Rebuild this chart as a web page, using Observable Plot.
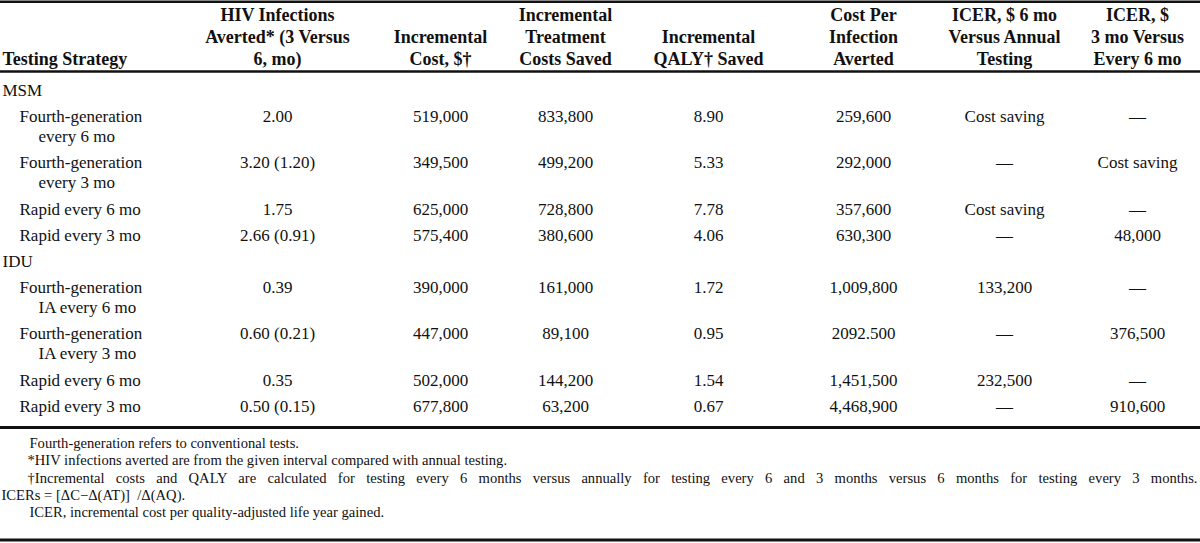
<!DOCTYPE html>
<html>
<head>
<meta charset="utf-8">
<script src="https://cdn.jsdelivr.net/npm/d3@7"></script>
<script src="https://cdn.jsdelivr.net/npm/@observablehq/plot@0.6"></script>
<style>
  html, body { margin: 0; padding: 0; background: #fff; }
</style>
</head>
<body>
<script>
// ---------- DATA ----------
const columnHeaders = [
  ["Testing Strategy"],
  ["HIV Infections", "Averted* (3 Versus", "6, mo)"],
  ["Incremental", "Cost, $†"],
  ["Incremental", "Treatment", "Costs Saved"],
  ["Incremental", "QALY† Saved"],
  ["Cost Per", "Infection", "Averted"],
  ["ICER, $ 6 mo", "Versus Annual", "Testing"],
  ["ICER, $", "3 mo Versus", "Every 6 mo"]
];
const groups = ["MSM", "IDU"];
const strategyGroup = ["MSM", "MSM", "MSM", "MSM", "IDU", "IDU", "IDU", "IDU"];
const strategies = [
  ["Fourth-generation", "every 6 mo"],
  ["Fourth-generation", "every 3 mo"],
  ["Rapid every 6 mo"],
  ["Rapid every 3 mo"],
  ["Fourth-generation", "IA every 6 mo"],
  ["Fourth-generation", "IA every 3 mo"],
  ["Rapid every 6 mo"],
  ["Rapid every 3 mo"]
];
const infectionsAverted = ["2.00", "3.20 (1.20)", "1.75", "2.66 (0.91)", "0.39", "0.60 (0.21)", "0.35", "0.50 (0.15)"];
const incrementalCost = ["519,000", "349,500", "625,000", "575,400", "390,000", "447,000", "502,000", "677,800"];
const treatmentCostsSaved = ["833,800", "499,200", "728,800", "380,600", "161,000", "89,100", "144,200", "63,200"];
const qalySaved = ["8.90", "5.33", "7.78", "4.06", "1.72", "0.95", "1.54", "0.67"];
const costPerInfectionAverted = ["259,600", "292,000", "357,600", "630,300", "1,009,800", "2092.500", "1,451,500", "4,468,900"];
const icer6VsAnnual = ["Cost saving", "—", "Cost saving", "—", "133,200", "—", "232,500", "—"];
const icer3Vs6 = ["—", "Cost saving", "—", "48,000", "—", "376,500", "—", "910,600"];
const footnotes = [
  "Fourth-generation refers to conventional tests.",
  "*HIV infections averted are from the given interval compared with annual testing.",
  "†Incremental costs and QALY are calculated for testing every 6 months versus annually for testing every 6 and 3 months versus 6 months for testing every 3 months.",
  "ICERs = [ΔC−Δ(AT)]\u00a0 /Δ(AQ).",
  "ICER, incremental cost per quality-adjusted life year gained."
];

// ---------- LAYOUT ----------
const W = 1200, H = 543;
const FONT = "'Liberation Serif', 'Times New Roman', Times, serif";
const INK = "#111";
const colX = [2, 277, 440, 565, 708, 863, 1004, 1137];
const headerLineY = [15, 37, 59];
const bodyStartY = 90, lineH = 20, rowGap = 26.2;
const indent1 = 19, indent2 = 38;
const footY0 = 443, footStep = 17.2;
const footIndent = [29, 27, 27, 1, 29];
const rules = [{y: 1.2, w: 2.4}, {y: 71, w: 2.4}, {y: 427, w: 2.8}, {y: 539.5, w: 2.8}];

const valueCols = [infectionsAverted, incrementalCost, treatmentCostsSaved, qalySaved,
  costPerInfectionAverted, icer6VsAnnual, icer3Vs6];

// header cells
const headLeft = [], headMid = [];
columnHeaders.forEach((lines, c) => {
  const off = 3 - lines.length;
  lines.forEach((t, i) => {
    const cell = {x: colX[c], y: headerLineY[i + off], text: t};
    (c === 0 ? headLeft : headMid).push(cell);
  });
});

// body cells
const bodyLeft = [], bodyMid = [];
let y = bodyStartY;
groups.forEach(g => {
  bodyLeft.push({x: colX[0], y, text: g});
  y += rowGap;
  strategies.forEach((lines, r) => {
    if (strategyGroup[r] !== g) return;
    lines.forEach((t, i) => bodyLeft.push({x: i === 0 ? indent1 : indent2, y: y + i * lineH, text: t}));
    valueCols.forEach((col, c) => bodyMid.push({x: colX[c + 1], y, text: col[r]}));
    y += (lines.length - 1) * lineH + rowGap;
  });
});

const foot = footnotes.map((t, i) => ({x: footIndent[i], y: footY0 + i * footStep, text: t}));

const common = {x: "x", y: "y", text: "text", fill: INK, fontFamily: FONT, lineAnchor: "middle"};

const chart = Plot.plot({
  width: W, height: H,
  margin: 0,
  x: {type: "linear", domain: [0, W], range: [0, W], axis: null},
  y: {type: "linear", domain: [0, H], range: [0, H], axis: null},
  style: {background: "#fff"},
  marks: [
    Plot.ruleY(rules, {y: "y", x1: 0, x2: W, stroke: INK, strokeWidth: d => d.w}),
    Plot.text(headLeft, {...common, textAnchor: "start", fontSize: 18, fontWeight: "bold"}),
    Plot.text(headMid, {...common, textAnchor: "middle", fontSize: 18, fontWeight: "bold"}),
    Plot.text(bodyLeft, {...common, textAnchor: "start", fontSize: 17}),
    Plot.text(bodyMid, {...common, textAnchor: "middle", fontSize: 17}),
    Plot.text(foot, {...common, textAnchor: "start", fontSize: 14.6})
  ]
});
document.body.append(chart);

// justify the long footnote line like the source typesetting
chart.querySelectorAll("text").forEach(t => {
  if (t.textContent.startsWith("†Incremental")) {
    const len = t.getComputedTextLength();
    const spaces = (t.textContent.match(/ /g) || []).length;
    const target = 1197 - 27;
    if (spaces && len < target) t.style.wordSpacing = ((target - len) / spaces) + "px";
  }
});
</script>
</body>
</html>
